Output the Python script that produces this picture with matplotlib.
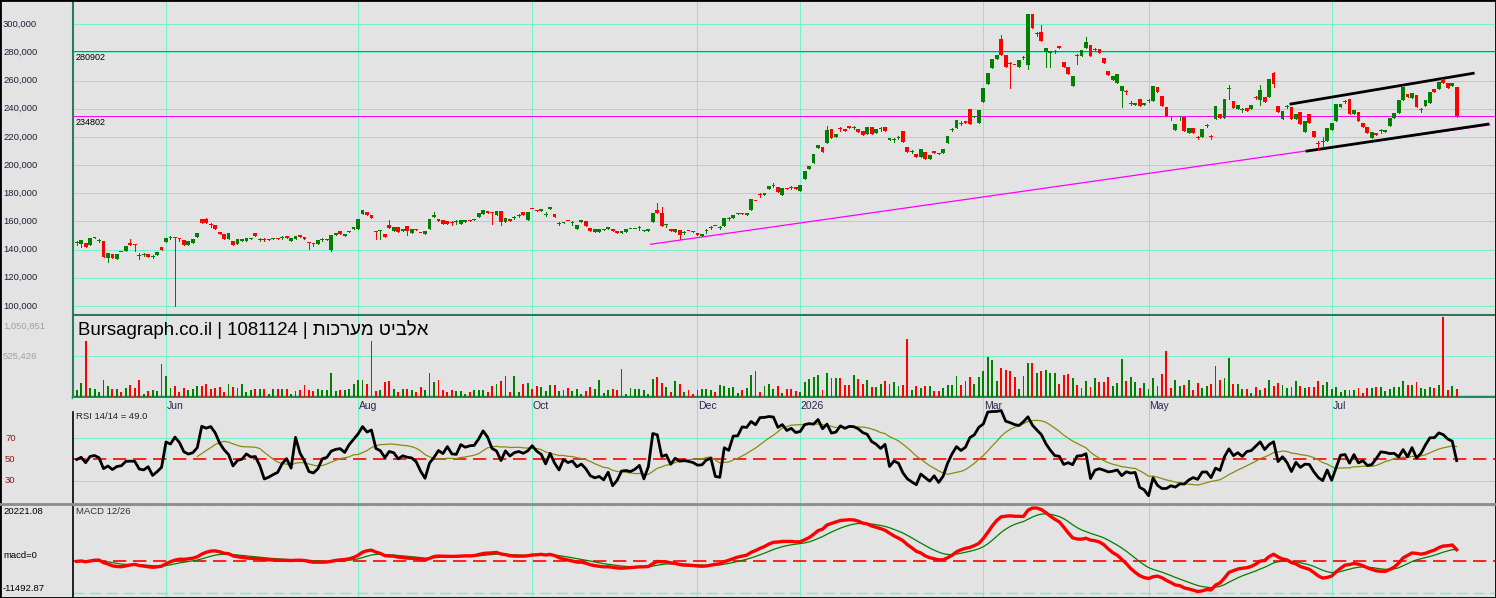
import numpy as np
import pandas as pd
import matplotlib
matplotlib.use("Agg")
import matplotlib.pyplot as plt
import matplotlib.transforms as mtransforms
from matplotlib.patches import Rectangle

plt.rcParams['font.family'] = ['Liberation Sans', 'DejaVu Sans']

# ---- data (prices in thousands) ----
opens = [
    144.4, 144.1, 144.6, 143.4, 148.0, 146.3, 146.2, 133.8, 136.6, 133.1,
    138.5, 138.9, 144.6, 143.3, 135.5, 136.5, 136.6, 135.1, 135.9, 142.1,
    145.1, 148.6, 148.7, 147.7, 146.7, 143.4, 144.6, 148.7, 161.4, 161.4,
    157.8, 157.2, 152.6, 150.8, 147.4, 146.2, 144.1, 146.0, 146.4, 147.8,
    151.7, 146.8, 147.2, 146.6, 147.8, 148.0, 148.4, 150.0, 146.4, 147.4,
    150.3, 149.2, 144.6, 144.2, 143.9, 147.0, 146.6, 140.0, 150.3, 153.1,
    149.4, 152.6, 154.5, 154.9, 165.3, 167.0, 164.3, 152.9, 153.2, 151.4,
    157.8, 153.5, 156.4, 153.5, 157.1, 151.9, 154.7, 151.7, 151.1, 154.3,
    163.1, 161.4, 160.7, 160.0, 158.9, 159.4, 158.3, 159.5, 161.2, 160.7,
    163.1, 165.5, 167.2, 166.3, 164.8, 167.2, 159.5, 161.9, 162.5, 164.2,
    166.7, 160.7, 169.2, 168.4, 167.4, 164.9, 169.1, 165.0, 158.2, 158.8,
    160.6, 158.9, 154.7, 159.5, 160.0, 155.4, 152.8, 152.8, 154.2, 154.7,
    154.7, 153.5, 151.9, 152.8, 154.6, 154.6, 155.1, 153.4, 153.0, 159.5,
    168.4, 166.0, 157.2, 155.0, 152.6, 153.8, 152.0, 153.2, 152.9, 152.1,
    149.5, 153.0, 155.4, 156.7, 155.6, 156.6, 162.0, 162.6, 165.3, 166.0,
    164.5, 168.0, 174.5, 178.8, 178.6, 182.7, 185.2, 184.2, 178.7, 184.1,
    184.3, 184.2, 181.5, 190.0, 197.1, 201.7, 211.8, 212.8, 215.9, 225.4,
    219.7, 225.7, 225.6, 228.0, 226.4, 225.4, 224.2, 221.8, 227.3, 222.5,
    225.5, 227.3, 217.8, 217.7, 219.3, 224.2, 213.0, 209.4, 207.8, 205.9,
    209.5, 204.0, 210.0, 208.8, 208.8, 215.9, 224.8, 226.0, 229.7, 231.5,
    239.8, 233.9, 230.1, 245.0, 257.6, 268.7, 275.4, 289.6, 278.2, 271.9,
    271.2, 269.9, 276.2, 271.1, 307.3, 292.8, 294.3, 280.0, 279.9, 280.5,
    284.8, 273.5, 269.9, 256.2, 277.6, 277.5, 283.4, 285.3, 281.7, 282.2,
    276.3, 266.8, 260.4, 258.5, 252.8, 251.8, 243.7, 242.7, 246.9, 242.7,
    245.6, 245.7, 255.2, 249.1, 241.5, 233.3, 224.9, 233.1, 234.4, 222.5,
    226.1, 219.8, 220.1, 227.9, 220.2, 232.5, 236.3, 233.2, 253.7, 245.5,
    239.6, 239.0, 240.3, 240.0, 248.0, 246.2, 248.6, 248.6, 265.6, 241.9,
    232.5, 241.4, 241.5, 232.5, 237.7, 223.7, 236.0, 224.2, 215.5, 216.5,
    217.3, 224.9, 231.5, 241.0, 244.9, 246.7, 236.3, 237.9, 229.6, 227.3,
    219.0, 223.0, 224.1, 223.7, 227.7, 233.2, 236.7, 246.2, 250.2, 247.4,
    249.8, 239.0, 241.9, 244.3, 254.0, 253.8, 261.1, 258.0, 256.2, 255.7,
]
closes = [
    144.8, 146.9, 141.6, 148.0, 148.7, 146.5, 134.7, 137.7, 133.8, 137.2,
    138.3, 142.8, 143.2, 143.1, 135.3, 136.7, 135.0, 135.3, 138.4, 140.0,
    148.0, 148.8, 148.4, 147.5, 143.4, 146.2, 147.6, 151.7, 159.1, 158.6,
    157.6, 154.9, 150.8, 147.6, 151.5, 143.4, 147.6, 147.8, 148.0, 148.1,
    149.9, 147.0, 147.0, 147.6, 148.3, 147.4, 148.6, 148.0, 148.0, 149.7,
    149.0, 147.4, 144.4, 144.0, 146.9, 147.2, 147.6, 150.3, 151.7, 151.0,
    150.8, 153.1, 156.1, 162.0, 168.3, 164.6, 162.4, 152.7, 153.4, 148.7,
    155.2, 156.4, 152.3, 154.7, 153.1, 154.7, 154.0, 151.5, 153.0, 161.4,
    164.3, 160.0, 158.3, 158.3, 158.7, 159.6, 160.7, 161.2, 160.2, 162.1,
    166.0, 167.9, 166.0, 166.1, 167.7, 159.5, 162.6, 160.2, 162.7, 164.4,
    164.3, 166.5, 169.0, 167.4, 169.1, 165.1, 170.3, 163.1, 158.4, 159.5,
    160.4, 159.1, 157.8, 161.2, 157.1, 153.5, 154.7, 154.7, 154.4, 156.4,
    153.5, 151.9, 153.0, 154.3, 154.8, 154.8, 155.3, 153.6, 154.7, 166.0,
    166.0, 156.6, 157.4, 153.1, 154.3, 150.7, 152.2, 153.0, 152.7, 150.7,
    151.4, 153.2, 155.6, 156.5, 155.8, 162.8, 162.2, 164.5, 165.9, 165.0,
    166.0, 175.8, 174.3, 178.6, 179.9, 185.0, 185.4, 181.1, 183.9, 182.9,
    184.1, 182.9, 185.8, 195.7, 199.5, 207.8, 214.2, 209.5, 224.9, 219.0,
    222.0, 225.5, 224.2, 226.5, 226.6, 223.7, 221.3, 226.8, 222.0, 225.6,
    225.7, 224.4, 219.4, 217.9, 219.5, 216.6, 209.0, 209.6, 205.9, 211.1,
    204.0, 207.1, 208.3, 207.6, 211.4, 220.6, 225.0, 232.0, 229.5, 229.6,
    229.2, 234.8, 239.1, 254.5, 265.6, 275.1, 278.2, 278.2, 269.9, 271.7,
    271.0, 274.6, 276.4, 307.3, 297.6, 293.0, 288.4, 283.0, 280.8, 280.7,
    282.9, 269.9, 264.7, 263.3, 277.4, 281.8, 287.7, 277.5, 281.9, 279.9,
    272.7, 264.0, 263.3, 264.7, 256.4, 251.6, 243.9, 243.8, 241.9, 244.3,
    245.8, 256.2, 252.1, 241.9, 234.8, 233.1, 229.1, 233.3, 224.4, 226.1,
    223.0, 219.6, 225.6, 228.1, 220.0, 242.0, 233.2, 246.9, 253.9, 240.8,
    242.4, 239.2, 238.6, 242.4, 247.8, 253.3, 245.0, 261.1, 257.6, 237.7,
    238.4, 241.6, 232.5, 236.3, 228.9, 231.3, 230.1, 220.1, 215.3, 216.7,
    226.5, 229.6, 243.4, 243.4, 245.1, 236.3, 239.1, 231.5, 227.3, 223.0,
    223.2, 221.3, 224.3, 224.9, 233.2, 236.7, 246.2, 255.7, 248.6, 250.9,
    241.0, 239.2, 246.2, 251.7, 252.1, 259.2, 258.5, 254.5, 258.0, 234.8,
]
# visible wicks (only where they stick out of the body)
wick_high = {
    0: 145.8, 5: 147.6, 12: 147.6, 14: 137.5, 15: 137.6, 17: 136.5, 21: 149.6,
    22: 148.9, 23: 148.5, 29: 162.8, 30: 159.0, 41: 148.2, 42: 148.3, 46: 149.5,
    53: 145.0, 55: 148.5, 70: 161.2, 80: 166.5, 84: 160.0, 85: 160.8, 98: 164.0,
    99: 165.5, 105: 166.4, 108: 159.6, 111: 160.3, 126: 156.5, 130: 173.2,
    131: 170.0, 132: 158.5, 136: 153.5, 141: 154.3, 142: 157.0, 144: 157.0,
    146: 163.5, 153: 180.0, 156: 187.0, 160: 185.3, 168: 227.7, 171: 227.0,
    174: 228.0, 180: 227.0, 183: 219.2, 184: 221.0, 187: 210.8, 196: 226.5,
    198: 231.0, 207: 292.4, 209: 273.2, 212: 277.8, 215: 294.3, 216: 299.5,
    219: 282.0, 224: 278.8, 226: 291.2, 228: 283.2, 235: 253.0, 236: 245.2,
    240: 247.0, 245: 234.5, 247: 234.6, 251: 221.0, 253: 229.5, 254: 221.4,
    258: 257.0, 261: 240.5, 264: 249.2, 265: 256.9, 268: 266.4, 271: 243.0,
    278: 216.8, 279: 220.1, 284: 246.5, 292: 225.6, 301: 240.5,
}
wick_low = {
    0: 143.2, 1: 141.6, 5: 145.2, 7: 131.3, 13: 138.9, 14: 133.0, 15: 135.6,
    17: 134.0, 21: 147.8, 22: 100.0, 23: 146.4, 30: 156.4, 41: 145.8, 42: 145.8,
    46: 147.4, 52: 140.7, 53: 142.8, 55: 146.0, 57: 138.9, 67: 147.4, 68: 147.4,
    74: 150.6, 84: 157.5, 85: 158.4, 93: 158.3, 95: 157.5, 98: 161.4, 99: 163.1,
    105: 163.8, 108: 157.2, 111: 157.8, 126: 154.0, 132: 156.2, 135: 147.9,
    136: 151.0, 141: 152.0, 142: 154.4, 144: 154.6, 146: 161.0, 153: 177.4,
    156: 184.2, 160: 183.0, 171: 224.3, 174: 225.4, 180: 224.5, 183: 216.6,
    184: 218.2, 187: 208.4, 196: 224.0, 198: 228.3, 209: 254.5, 212: 275.2,
    213: 268.0, 215: 291.8, 217: 269.9, 218: 269.9, 219: 279.5, 224: 271.8,
    228: 280.7, 234: 241.5, 235: 250.4, 236: 242.6, 240: 244.6, 245: 231.9,
    247: 232.1, 251: 218.4, 253: 226.8, 254: 218.8, 258: 247.0, 261: 238.0,
    264: 246.6, 265: 242.7, 268: 255.2, 271: 240.4, 278: 211.0, 279: 213.0,
    284: 243.9, 292: 223.1, 301: 238.0, 309: 233.9,
}
# volume in thousands of shares
volume = [
    88, 184, 731, 123, 101, 66, 219, 140, 109, 101,
    66, 118, 153, 123, 219, 44, 79, 88, 74, 429,
    271, 123, 140, 66, 123, 88, 101, 140, 140, 166,
    101, 123, 131, 66, 175, 131, 123, 166, 66, 96,
    109, 109, 109, 44, 101, 109, 109, 109, 44, 79,
    88, 153, 96, 79, 109, 88, 88, 315, 79, 88,
    96, 101, 166, 219, 219, 166, 731, 79, 96, 197,
    206, 109, 66, 101, 101, 88, 66, 131, 88, 315,
    197, 219, 88, 66, 96, 79, 79, 44, 66, 88,
    96, 96, 66, 140, 165, 204, 269, 61, 269, 61,
    165, 178, 100, 139, 126, 74, 152, 152, 74, 87,
    113, 74, 100, 35, 74, 126, 100, 217, 48, 87,
    100, 87, 360, 35, 113, 100, 100, 87, 35, 230,
    256, 178, 126, 61, 204, 165, 61, 87, 35, 87,
    100, 100, 87, 61, 152, 139, 113, 126, 48, 87,
    113, 282, 334, 61, 139, 165, 100, 139, 48, 100,
    100, 74, 61, 191, 230, 256, 282, 87, 308, 243,
    243, 243, 152, 152, 282, 230, 165, 217, 126, 126,
    165, 204, 165, 191, 139, 152, 751, 87, 139, 113,
    139, 139, 74, 74, 113, 152, 152, 269, 152, 204,
    256, 165, 256, 334, 517, 478, 204, 373, 347, 334,
    256, 100, 269, 439, 439, 308, 334, 347, 308, 308,
    165, 282, 295, 243, 152, 113, 204, 126, 243, 191,
    191, 256, 139, 178, 491, 204, 256, 191, 113, 178,
    100, 243, 139, 295, 595, 113, 217, 139, 152, 217,
    87, 178, 113, 139, 165, 399, 217, 243, 504, 165,
    165, 100, 100, 48, 126, 87, 113, 217, 139, 178,
    152, 113, 126, 204, 139, 113, 126, 126, 204, 152,
    191, 100, 126, 61, 87, 87, 87, 113, 48, 113,
    113, 126, 126, 74, 100, 126, 126, 204, 152, 152,
    191, 113, 100, 126, 113, 152, 1040, 87, 139, 100,
]

month_labels = ["Jun", "Aug", "Oct", "Dec", "2026", "Mar", "May", "Jul"]
month_pos = [20, 63, 102, 139, 162, 203, 240, 281]

level_lines = [280.902, 234.802]
# drawn trend lines: (bar index, price)
trend_x = [128.5, 316.4]
trend_y = [143.8, 228.6]
chan_top_x = [271.9, 312.7]
chan_top_y = [243.4, 265.2]
chan_bot_x = [275.5, 316.0]
chan_bot_y = [210.0, 229.1]

macd_max = 20221.08
macd_min = -11492.87

# the source chart draws the Hebrew name glyph by glyph from left to right,
# matplotlib applies bidi, so hand it over reversed to get the same picture
name_he = "אלביט מערכות"[::-1]
title = "Bursagraph.co.il | 1081124 | " + name_he

# ---- indicators ----
o = np.array(opens)
c = np.array(closes)
n = len(c)
idx = np.arange(n)
hi = np.array([wick_high.get(i, max(o[i], c[i])) for i in range(n)])
lo = np.array([wick_low.get(i, min(o[i], c[i])) for i in range(n)])
up = c >= o
colors = np.where(up, "#008000", "#ff0000")

# RSI 14 with simple averages of gains / losses (neutral start)
d = np.diff(c * 1000)
gains = np.maximum(d, 0)
losses = np.maximum(-d, 0)
seed = np.mean(np.abs(d[:14])) / 2
rsi = [50.0]
for k in range(1, n):
    a = max(0, k - 14)
    pad = max(0, 14 - k)
    ag = (gains[a:k].sum() + pad * seed) / 14
    al = (losses[a:k].sum() + pad * seed) / 14
    rsi.append(100 - 100 / (1 + ag / al) if al > 0 else 100.0)
rsi = np.array(rsi)
rsi_ma = pd.Series(rsi).rolling(14).mean().to_numpy()
rsi_ma[:27] = np.nan

px = pd.Series(c * 1000)
macd = (px.ewm(span=12, adjust=False).mean() - px.ewm(span=26, adjust=False).mean()).to_numpy()
signal = pd.Series(macd).ewm(span=9, adjust=False).mean().to_numpy()

# ---- figure ----
W, H = 1496, 598
BG = "#e3e3e3"
GRID = "#76f0cc"
LW1 = 0.72  # one pixel at 100 dpi
fig = plt.figure(figsize=(W / 100, H / 100), dpi=100, facecolor=BG)


def box(top, bot):
    return [73 / W, 1 - bot / H, (W - 73) / W, (bot - top) / H]


ax_p = fig.add_axes(box(2, 315))
ax_v = fig.add_axes(box(316, 397), sharex=ax_p)
ax_r = fig.add_axes(box(398, 503), sharex=ax_p)
ax_m = fig.add_axes(box(505, 597), sharex=ax_p)

for ax in (ax_p, ax_v, ax_r, ax_m):
    ax.set_facecolor(BG)
    ax.set_xticks([])
    ax.set_yticks([])
    for s in ax.spines.values():
        s.set_visible(False)
    for m in month_pos:
        ax.axvline(m, color=GRID, lw=LW1, zorder=0, antialiased=False)

ax_p.set_xlim(-0.83, 317.8)

# price panel
ax_p.set_ylim(93.6, 315.8)
for v in range(100, 301, 20):
    ax_p.axhline(v, color=GRID, lw=LW1, zorder=0, antialiased=False)
for lv in level_lines:
    ax_p.axhline(lv, color="#ff00ff", lw=LW1, zorder=1, antialiased=False)
    ax_p.annotate(str(int(round(lv * 1000))), (0.002, lv), xycoords=("axes fraction", "data"),
                  xytext=(0, -1.5), textcoords="offset points", va="top", ha="left",
                  fontsize=6.5, color="black")
ax_p.plot(trend_x, trend_y, color="#ff00ff", lw=0.9, zorder=2)
ax_p.plot(chan_top_x, chan_top_y, color="black", lw=2.0, zorder=2)
ax_p.plot(chan_bot_x, chan_bot_y, color="black", lw=2.0, zorder=2)

ax_p.vlines(idx, lo, hi, colors=colors, lw=LW1, zorder=3, antialiased=False)
body = np.maximum(np.abs(c - o), 0.7)
ax_p.bar(idx, body, bottom=np.minimum(o, c), width=0.85, color=colors, lw=0, zorder=4)

ax_p.spines["left"].set_visible(True)
ax_p.spines["left"].set_color("#2a7a5a")
ax_p.spines["left"].set_linewidth(1.5)
ax_p.spines["bottom"].set_visible(True)
ax_p.spines["bottom"].set_color("#2a7a5a")
ax_p.spines["bottom"].set_linewidth(1.5)

tp = mtransforms.blended_transform_factory(fig.transFigure, ax_p.transData)
for v in range(100, 301, 20):
    ax_p.text(3 / W, v, f"{v * 1000:,}", transform=tp, va="center", ha="left",
              fontsize=6.8, color="#202038")

# volume panel
ax_v.set_ylim(0, 1050.851)
ax_v.axhline(525.426, color=GRID, lw=LW1, zorder=0, antialiased=False)
ax_v.bar(idx, volume, width=0.42, color=colors, lw=0, zorder=3)
ax_v.spines["bottom"].set_visible(True)
ax_v.spines["bottom"].set_color("#1f8a60")
ax_v.spines["bottom"].set_linewidth(2.5)
ax_v.spines["left"].set_visible(True)
ax_v.spines["left"].set_color("#2a7a5a")
ax_v.spines["left"].set_linewidth(1.5)
tv = mtransforms.blended_transform_factory(fig.transFigure, ax_v.transData)
ax_v.annotate("1,050,851", (3 / W, 1050.851), xycoords=tv, xytext=(0, -4),
              textcoords="offset points", va="top", ha="left", fontsize=6.8, color="#a0a0a8")
ax_v.text(3 / W, 525.426, "525,426", transform=tv, va="center", ha="left",
          fontsize=6.8, color="#a0a0a8")
fig.text(78 / W, 1 - 330 / H, title, fontsize=13.4, color="black", va="center", ha="left")

# RSI panel
ax_r.set_ylim(8.96, 108.0)
for v in (70, 30):
    ax_r.axhline(v, color=GRID, lw=LW1, zorder=0, antialiased=False)
ax_r.axhline(50, color="#ff0000", lw=1.2, ls=(0, (8, 4)), zorder=1)
ax_r.plot(idx, rsi_ma, color="#8a8a10", lw=0.9, zorder=2)
ax_r.plot(idx, rsi, color="black", lw=2, zorder=3)
ax_r.spines["left"].set_visible(True)
ax_r.spines["left"].set_color("black")
ax_r.spines["left"].set_linewidth(1.2)
ax_r.spines["left"].set_bounds(8.96, 94.8)
tr = mtransforms.blended_transform_factory(fig.transFigure, ax_r.transData)
for v in (70, 50, 30):
    ax_r.text(5 / W, v, str(v), transform=tr, va="center", ha="left",
              fontsize=6.8, color="#8b1a1a")
ax_r.text(76.5 / W, 1 - 416.7 / H, "RSI 14/14 = 49.0", transform=fig.transFigure,
          va="center", ha="left", fontsize=6.8, color="#202020")
for lab, m in zip(month_labels, month_pos):
    ax_r.annotate(lab, (m, 1 - 8 / 105), xycoords=("data", "axes fraction"),
                  xytext=(0.5, 0), textcoords="offset points", va="center", ha="left",
                  fontsize=7.5, color="#262650")

# separator between RSI and MACD
fig.add_artist(plt.Line2D([0, 1], [1 - 504 / H, 1 - 504 / H], color="#8c8c8c", lw=2))

# MACD panel
ax_m.set_ylim(-12826, 20329)
ax_m.axhline(macd_max, color=GRID, lw=1, ls=(0, (8, 4)), zorder=0)
ax_m.axhline(macd_min, color=GRID, lw=1, ls=(0, (8, 4)), zorder=0)
ax_m.axhline(0, color="#ff0000", lw=1.2, ls=(0, (8, 4)), zorder=1)
ax_m.plot(idx, signal, color="#008000", lw=0.9, zorder=2)
ax_m.plot(idx, macd, color="#ff0000", lw=2.4, zorder=3)
ax_m.spines["left"].set_visible(True)
ax_m.spines["left"].set_color("black")
ax_m.spines["left"].set_linewidth(1.2)
tm = mtransforms.blended_transform_factory(fig.transFigure, ax_m.transData)
ax_m.annotate(f"{macd_max:.2f}", (3 / W, macd_max), xycoords=tm, xytext=(0, -1),
              textcoords="offset points", va="top", ha="left", fontsize=6.8, color="black")
ax_m.annotate("macd=0", (3 / W, 0), xycoords=tm, xytext=(0, 1),
              textcoords="offset points", va="bottom", ha="left", fontsize=6.8, color="black")
ax_m.annotate(f"{macd_min:.2f}", (3 / W, macd_min), xycoords=tm, xytext=(0, 0.5),
              textcoords="offset points", va="bottom", ha="left", fontsize=6.8, color="black")
ax_m.text(76.5 / W, 1 - 511 / H, "MACD 12/26", transform=fig.transFigure,
          va="center", ha="left", fontsize=6.8, color="#303030")

# outer frame
fig.add_artist(Rectangle((0, 0), 1, 1, transform=fig.transFigure, fill=False,
                         edgecolor="black", lw=2))

fig.savefig("out.png", dpi=100, facecolor=BG)
